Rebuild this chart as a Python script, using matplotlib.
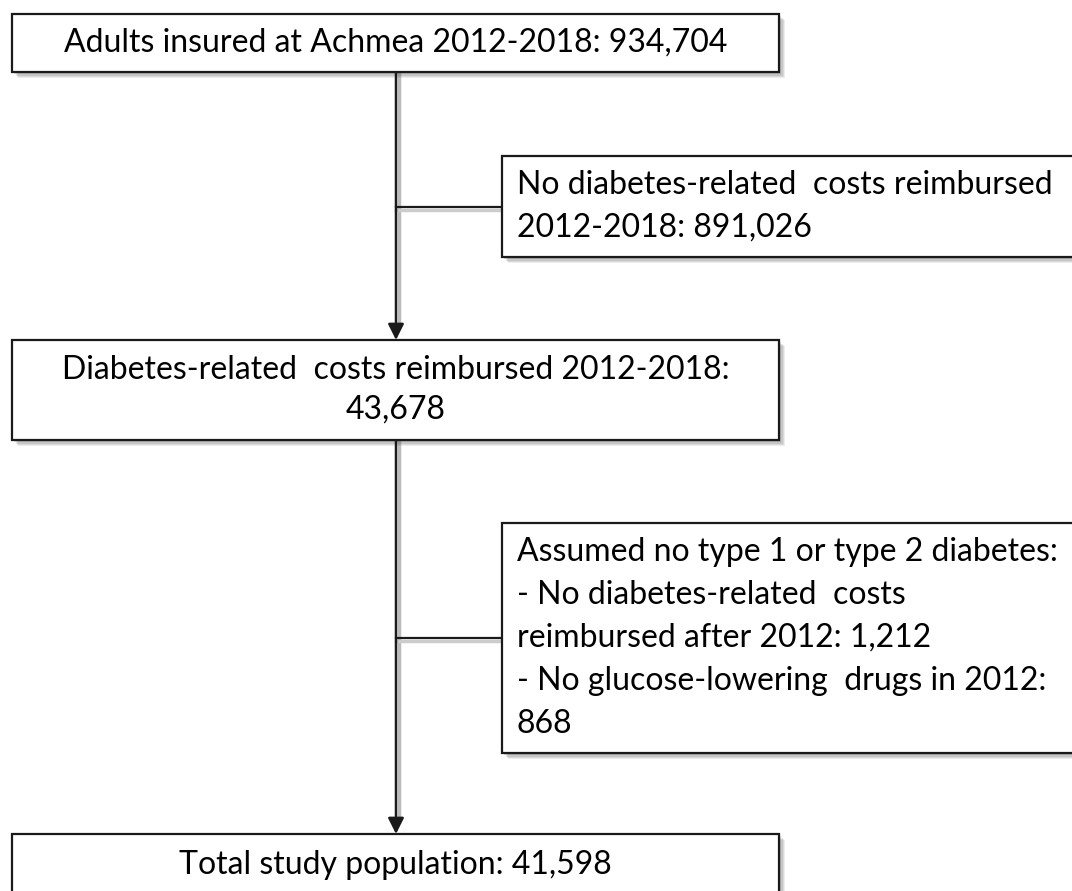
import matplotlib.pyplot as plt
from matplotlib.patches import Rectangle

# flowchart contents
main_lines = [
    ["Adults insured at Achmea 2012-2018: 934,704"],
    ["Diabetes-related  costs reimbursed 2012-2018:", "43,678"],
    ["Total study population: 41,598"],
]
excl_lines = [
    ["No diabetes-related  costs reimbursed", "2012-2018: 891,026"],
    ["Assumed no type 1 or type 2 diabetes:",
     "- No diabetes-related  costs",
     "reimbursed after 2012: 1,212",
     "- No glucose-lowering  drugs in 2012:",
     "868"],
]

plt.rcParams['font.family'] = ['Lato', 'DejaVu Sans']
FS = 23
LINE = 43
EDGE = '#1a1a1a'

fig = plt.figure(figsize=(10.72, 8.91), dpi=100)
ax = fig.add_axes([0, 0, 1, 1])
ax.set_xlim(0, 1072)
ax.set_ylim(891, 0)
ax.axis('off')


def box(x0, y0, x1, y1):
    # soft drop shadow
    for i, a in enumerate([0.10, 0.12, 0.15, 0.2]):
        off = 6 - i * 1.2
        ax.add_patch(Rectangle((x0 + off, y0 + off), x1 - x0, y1 - y0,
                               facecolor='#555555', edgecolor='none', alpha=a, zorder=1))
    ax.add_patch(Rectangle((x0, y0), x1 - x0, y1 - y0, facecolor='white',
                           edgecolor=EDGE, linewidth=1.6, zorder=3))


spine_x = 396
main_boxes = [(12, 14, 779, 72), (12, 340, 779, 440), (12, 834, 779, 905)]
side_boxes = [(502, 156, 1085, 257), (502, 523, 1085, 753)]

# vertical spine with shadow
for seg in [(72, 340), (440, 834)]:
    ax.plot([spine_x + 3, spine_x + 3], [seg[0], seg[1] - 14], color='#bbbbbb', lw=2.5, zorder=1)
    ax.annotate('', xy=(spine_x, seg[1]), xytext=(spine_x, seg[0]),
                arrowprops=dict(arrowstyle='-|>', color=EDGE, lw=1.8,
                                mutation_scale=24, shrinkA=0, shrinkB=0), zorder=2)

# horizontal connectors to exclusion boxes
for b in side_boxes:
    yc = (b[1] + b[3]) / 2
    ax.plot([spine_x, b[0]], [yc + 3, yc + 3], color='#cccccc', lw=2.5, zorder=1)
    ax.plot([spine_x, b[0]], [yc, yc], color=EDGE, lw=1.6, zorder=2)

for b, lines in zip(main_boxes, main_lines):
    box(*b)
    xc = (b[0] + b[2]) / 2
    n = len(lines)
    yc = (b[1] + b[3]) / 2 if b[3] < 891 else 865
    for k, t in enumerate(lines):
        ax.text(xc, yc + (k - (n - 1) / 2) * 40, t, ha='center', va='center',
                fontsize=FS, color='black', zorder=4)

for b, lines in zip(side_boxes, excl_lines):
    box(*b)
    n = len(lines)
    yc = (b[1] + b[3]) / 2
    for k, t in enumerate(lines):
        ax.text(517, yc + (k - (n - 1) / 2) * LINE, t, ha='left', va='center',
                fontsize=FS, color='black', zorder=4)

fig.savefig('out.png', dpi=100)
